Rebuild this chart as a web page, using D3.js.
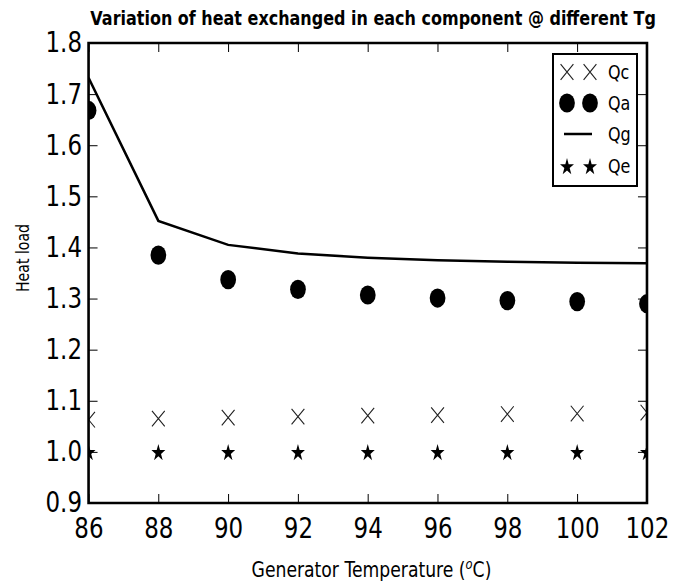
<!DOCTYPE html>
<html>
<head>
<meta charset="utf-8">
<script src="https://cdn.jsdelivr.net/npm/d3@7"></script>
<style>
body { margin: 0; background: #fff; }
svg { display: block; }
text { font-family: "DejaVu Sans", sans-serif; fill: #000; }
</style>
</head>
<body>
<script>
// Data
const temps = [86, 88, 90, 92, 94, 96, 98, 100, 102];
const qc = [1.063, 1.065, 1.067, 1.069, 1.071, 1.072, 1.074, 1.075, 1.077];
const qa = [1.668, 1.385, 1.337, 1.318, 1.307, 1.301, 1.296, 1.294, 1.290];
const qg = [1.732, 1.452, 1.405, 1.388, 1.380, 1.375, 1.372, 1.370, 1.369];
const qe = [1.0, 1.0, 1.0, 1.0, 1.0, 1.0, 1.0, 1.0, 1.0];
const xTicks = [86, 88, 90, 92, 94, 96, 98, 100, 102];
const yTicks = [0.9, 1.0, 1.1, 1.2, 1.3, 1.4, 1.5, 1.6, 1.7, 1.8];
const legendLabels = ["Qc", "Qa", "Qg", "Qe"];

// the original figure is squeezed sideways, so draw wide and squash with the viewBox
const K = 0.82;
const W = 674, H = 582;
const VW = W / K;
const margin = { left: 108, right: VW - 789, top: 43, bottom: H - 503 };

const svg = d3.select("body").append("svg")
    .attr("width", W)
    .attr("height", H)
    .attr("viewBox", `0 0 ${VW} ${H}`)
    .attr("preserveAspectRatio", "none");

const x = d3.scaleLinear().domain([86, 102]).range([margin.left, VW - margin.right]);
const y = d3.scaleLinear().domain([0.9, 1.8]).range([H - margin.bottom, margin.top]);

svg.append("defs").append("clipPath").attr("id", "plot")
  .append("rect")
    .attr("x", x(86)).attr("y", y(1.8))
    .attr("width", x(102) - x(86)).attr("height", y(0.9) - y(1.8));

// axes, ticks point inward on all four sides
const tickX = 9, tickY = 9 / K;
const fmt = d3.format(".1f");

function styleAxis(g) {
  g.select(".domain").remove();
  g.selectAll(".tick line").attr("stroke", "#000").attr("stroke-width", 1)
    .attr("vector-effect", "non-scaling-stroke");
  g.selectAll(".tick text").attr("font-size", 28).attr("font-family", "DejaVu Sans").attr("fill", "#000");
}

svg.append("g").attr("transform", `translate(0,${y(0.9)})`)
  .call(d3.axisBottom(x).tickValues(xTicks).tickSize(-tickX).tickPadding(15))
  .call(styleAxis);
svg.append("g").attr("transform", `translate(0,${y(1.8)})`)
  .call(d3.axisTop(x).tickValues(xTicks).tickSize(-tickX).tickFormat(""))
  .call(styleAxis);
svg.append("g").attr("transform", `translate(${x(86)},0)`)
  .call(d3.axisLeft(y).tickValues(yTicks).tickSize(-tickY).tickPadding(8).tickFormat(fmt))
  .call(styleAxis);
svg.append("g").attr("transform", `translate(${x(102)},0)`)
  .call(d3.axisRight(y).tickValues(yTicks).tickSize(-tickY).tickFormat(""))
  .call(styleAxis);

const plot = svg.append("g").attr("clip-path", "url(#plot)");

// Qg line
plot.append("path")
    .datum(temps.map((t, i) => [t, qg[i]]))
    .attr("fill", "none")
    .attr("stroke", "#000")
    .attr("stroke-width", 2.5)
    .attr("vector-effect", "non-scaling-stroke")
    .attr("d", d3.line().x(d => x(d[0])).y(d => y(d[1])));

// marker helpers
const xHalf = 7.8;
function crossPath(cx, cy) {
  return `M${cx - xHalf},${cy - xHalf}L${cx + xHalf},${cy + xHalf}M${cx - xHalf},${cy + xHalf}L${cx + xHalf},${cy - xHalf}`;
}
const star = d3.symbol(d3.symbolStar).size(90);

// Qc crosses
plot.selectAll(".qc").data(temps).join("path")
    .attr("d", (t, i) => crossPath(x(t), y(qc[i])))
    .attr("stroke", "#222").attr("stroke-width", 1.1).attr("fill", "none")
    .attr("vector-effect", "non-scaling-stroke");

// Qa dots
plot.selectAll(".qa").data(temps).join("circle")
    .attr("cx", t => x(t))
    .attr("cy", (t, i) => y(qa[i]))
    .attr("r", 9.6)
    .attr("fill", "#000");

// Qe stars
plot.selectAll(".qe").data(temps).join("path")
    .attr("d", star)
    .attr("transform", (t, i) => `translate(${x(t)},${y(qe[i]) + 1})`)
    .attr("fill", "#000");

// frame
svg.append("rect")
    .attr("x", x(86)).attr("y", y(1.8))
    .attr("width", x(102) - x(86)).attr("height", y(0.9) - y(1.8))
    .attr("fill", "none").attr("stroke", "#000").attr("stroke-width", 2.6)
    .attr("vector-effect", "non-scaling-stroke");

// titles
svg.append("text")
    .attr("x", 455).attr("y", 25)
    .attr("text-anchor", "middle")
    .attr("font-size", 19.5).attr("font-weight", "bold")
    .text("Variation of heat exchanged in each component @ different Tg");

const xl = svg.append("text")
    .attr("x", 453).attr("y", 577)
    .attr("text-anchor", "middle")
    .attr("font-size", 21);
xl.append("tspan").text("Generator Temperature (");
xl.append("tspan").attr("font-style", "italic").attr("font-size", 14).attr("dy", -8).text("o");
xl.append("tspan").attr("dy", 8).text("C)");

svg.append("text")
    .attr("transform", `translate(35,258) rotate(-90)`)
    .attr("text-anchor", "middle")
    .attr("font-size", 21.5)
    .attr("textLength", 68)
    .attr("lengthAdjust", "spacingAndGlyphs")
    .text("Heat load");

// legend
const lg = svg.append("g");
lg.append("rect")
    .attr("x", 553 / K).attr("y", 54)
    .attr("width", (637 - 553) / K).attr("height", 132)
    .attr("fill", "#fff").attr("stroke", "#000").attr("stroke-width", 2)
    .attr("vector-effect", "non-scaling-stroke");

const rowY = [72, 103, 134, 166];
const m1 = 567 / K, m2 = 590 / K;
legendLabels.forEach((name, i) => {
  const cy = rowY[i];
  if (name === "Qc") {
    [m1, m2].forEach(mx => lg.append("path").attr("d", crossPath(mx, cy))
      .attr("stroke", "#222").attr("stroke-width", 1.1).attr("fill", "none")
      .attr("vector-effect", "non-scaling-stroke"));
  } else if (name === "Qa") {
    [m1, m2].forEach(mx => lg.append("circle").attr("cx", mx).attr("cy", cy).attr("r", 9.6).attr("fill", "#000"));
  } else if (name === "Qg") {
    lg.append("line").attr("x1", 564 / K).attr("x2", 592 / K).attr("y1", cy).attr("y2", cy)
      .attr("stroke", "#000").attr("stroke-width", 2.5).attr("vector-effect", "non-scaling-stroke");
  } else {
    [m1, m2].forEach(mx => lg.append("path").attr("d", star).attr("transform", `translate(${mx},${cy + 1})`).attr("fill", "#000"));
  }
  lg.append("text").attr("x", 608 / K).attr("y", cy + 7).attr("font-size", 19.5).text(name);
});
</script>
</body>
</html>
